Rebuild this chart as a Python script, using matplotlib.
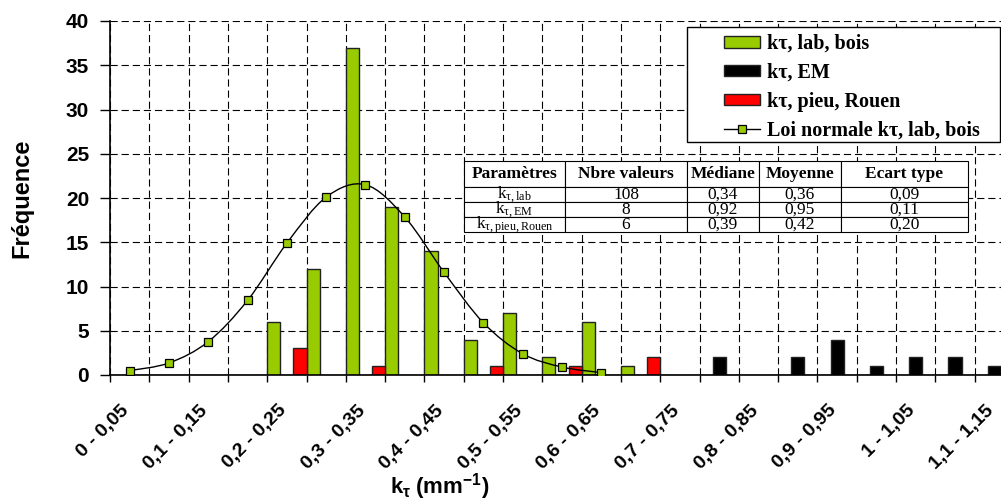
import numpy as np
import matplotlib
matplotlib.use('Agg')
import matplotlib.pyplot as plt
from matplotlib.path import Path
from matplotlib.patches import PathPatch, Rectangle
from matplotlib.lines import Line2D
from matplotlib.transforms import ScaledTranslation

plt.rcParams['font.family'] = ['Liberation Sans', 'DejaVu Sans']
plt.rcParams['mathtext.fontset'] = 'custom'
plt.rcParams['mathtext.rm'] = 'Liberation Serif'
plt.rcParams['mathtext.it'] = 'Liberation Serif:italic'
plt.rcParams['mathtext.bf'] = 'Liberation Sans:bold'

# classes de k_tau (pas de 0,05 mm-1)
classes = ['0 - 0,05', '0,05 - 0,1', '0,1 - 0,15', '0,15 - 0,2', '0,2 - 0,25',
           '0,25 - 0,3', '0,3 - 0,35', '0,35 - 0,4', '0,4 - 0,45', '0,45 - 0,5',
           '0,5 - 0,55', '0,55 - 0,6', '0,6 - 0,65', '0,65 - 0,7', '0,7 - 0,75',
           '0,75 - 0,8', '0,8 - 0,85', '0,85 - 0,9', '0,9 - 0,95', '0,95 - 1',
           '1 - 1,05', '1,05 - 1,1', '1,1 - 1,15']

freq_lab = [0, 0, 0, 0, 6, 12, 37, 19, 14, 4, 7, 2, 6, 1, 0, 0, 0, 0, 0, 0, 0, 0, 0]
freq_em = [0, 0, 0, 0, 0, 0, 0, 0, 0, 0, 0, 0, 0, 0, 0, 2, 0, 2, 4, 1, 2, 2, 1]
freq_rouen = [0, 0, 0, 0, 3, 0, 1, 0, 0, 1, 0, 1, 0, 2, 0, 0, 0, 0, 0, 0, 0, 0, 0]

# loi normale ajustee sur kτ, lab, bois (13 premieres classes)
loi_normale = [0.5, 1.36, 3.77, 8.43, 14.9, 20.1, 21.5, 17.85, 11.6, 5.9, 2.4, 0.9, 0.27]

# tableau des parametres
tab_header = ['Paramètres', 'Nbre valeurs', 'Médiane', 'Moyenne', 'Ecart type']
tab_rows = [[r'k$_{\mathrm{\tau,lab}}$', '108', '0,34', '0,36', '0,09'],
            [r'k$_{\mathrm{\tau,EM}}$', '8', '0,92', '0,95', '0,11'],
            [r'k$_{\mathrm{\tau,pieu,Rouen}}$', '6', '0,39', '0,42', '0,20']]

VERT = '#99CC00'
ROUGE = '#FF0000'
NOIR = '#000000'


def smooth_path(xs, ys):
    # lissage type Excel : segments de Bezier passant par les points
    pts = np.column_stack([xs, ys])
    ext = np.vstack([pts[0], pts, pts[-1]])
    verts = [pts[0]]
    codes = [Path.MOVETO]
    for i in range(len(pts) - 1):
        p0, p1, p2, p3 = ext[i], ext[i + 1], ext[i + 2], ext[i + 3]
        verts += [p1 + (p2 - p0) / 6, p2 - (p3 - p1) / 6, p2]
        codes += [Path.CURVE4] * 3
    return Path(verts, codes)


fig = plt.figure(figsize=(10.01, 5.04), dpi=100)
ax = fig.add_axes([110 / 1001, 1 - 375 / 504, 904 / 1001, 354 / 504])

n = len(classes)
x = np.arange(n)
w = 1 / 3
b_lab = ax.bar(x + w / 2, freq_lab, w, color=VERT, edgecolor='#222222', lw=1,
               label='kτ, lab, bois', zorder=2)
b_em = ax.bar(x + 1.5 * w, freq_em, w, color=NOIR, edgecolor='#222222', lw=1,
              label='kτ, EM', zorder=2)
b_rouen = ax.bar(x + 2.5 * w, freq_rouen, w, color=ROUGE, edgecolor='#222222', lw=1,
                 label='kτ, pieu, Rouen', zorder=2)

xs = np.arange(len(loi_normale)) + 0.5
ax.add_patch(PathPatch(smooth_path(xs, loi_normale), fill=False, edgecolor='black',
                       lw=1, zorder=3))
ax.plot(xs, loi_normale, 's', ms=6, mfc=VERT, mec='black', mew=0.9, zorder=4)

ax.set_xlim(0, n)
ax.set_ylim(0, 40)
ax.set_xticks(np.arange(n + 1))
ax.set_yticks(np.arange(0, 41, 5))
ax.tick_params(axis='x', direction='out', length=5, width=1, labelbottom=False)
ax.tick_params(axis='y', direction='out', length=7, width=1, pad=8, labelsize=15)
for lbl in ax.get_yticklabels():
    lbl.set_fontweight('bold')
ax.grid(True, color='black', linestyle=(0, (6.5, 3.5)), linewidth=0.8)
for s in ['top', 'right']:
    ax.spines[s].set_visible(False)
for s in ['left', 'bottom']:
    ax.spines[s].set_linewidth(1.2)

# etiquettes de classes, une sur deux
off = ScaledTranslation(-9 / 100, -27 / 100, fig.dpi_scale_trans)
for k in range(0, n, 2):
    ax.text(k + 0.5, 0, classes[k], transform=ax.get_xaxis_transform() + off,
            rotation=45, rotation_mode='anchor', ha='right', va='top',
            fontsize=14, fontweight='bold')

fig.text(22 / 1001, 1 - 198 / 504, 'Fréquence', rotation=90, ha='center',
         va='center', fontsize=17, fontweight='bold')
fig.text(440 / 1001, 1 - 487 / 504, r'$\mathbf{k_{\tau}\ (mm^{-1})}$',
         ha='center', va='center', fontsize=16)

# legende
fig.add_artist(Rectangle((687 / 1001, 1 - 142 / 504), 313 / 1001, 115 / 504,
                         transform=fig.transFigure, facecolor='white',
                         edgecolor='black', lw=1, zorder=4))
courbe = Line2D([], [], color='black', lw=1, marker='s', ms=6, mfc=VERT,
                mec='black', mew=0.9)
fig.legend([b_lab, b_em, b_rouen, courbe],
           ['kτ, lab, bois', 'kτ, EM', 'kτ, pieu, Rouen', 'Loi normale kτ, lab, bois'],
           loc='upper left', bbox_to_anchor=(724 / 1001, 1 - 34 / 504),
           bbox_transform=fig.transFigure, frameon=False, borderpad=0,
           borderaxespad=0, handlelength=1.8, handleheight=0.5,
           handletextpad=0.35, labelspacing=0.44,
           prop={'family': 'Liberation Serif', 'weight': 'bold', 'size': 14.5})

# tableau
col_w = [101, 122, 72, 82, 127]
tab = ax.table(cellText=tab_rows, colLabels=tab_header, cellLoc='center',
               colWidths=col_w, bbox=[0.3916, 0.4031, 0.5575, 0.2014])
tab.set_zorder(6)
tab.auto_set_font_size(False)
for (r, c), cell in tab.get_celld().items():
    cell.set_edgecolor('black')
    cell.set_linewidth(0.8)
    cell.set_facecolor('white')
    cell.set_height(26 if r == 0 else 15)
    txt = cell.get_text()
    txt.set_fontfamily('Liberation Serif')
    txt.set_fontsize(12.5)
    if r == 0:
        txt.set_fontweight('bold')

fig.savefig('out.png', dpi=100)
